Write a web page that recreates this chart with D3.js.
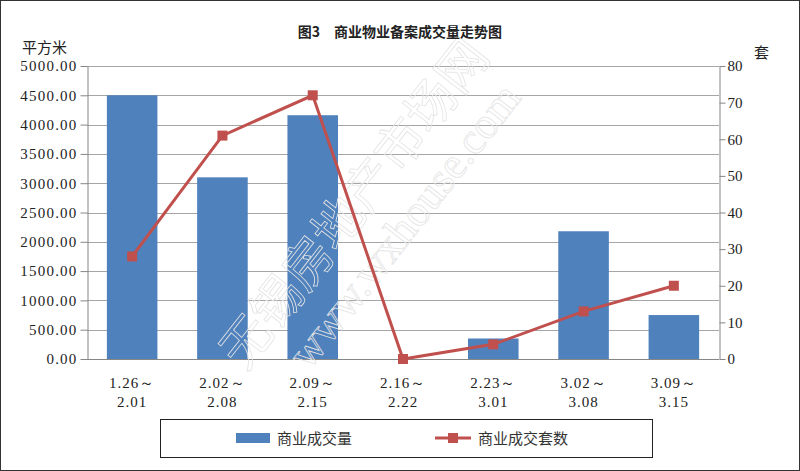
<!DOCTYPE html>
<html><head><meta charset="utf-8">
<script src="https://cdn.jsdelivr.net/npm/d3@7"></script>
<style>body{margin:0;background:#fff}svg{display:block}</style>
</head><body>
<svg id="c" width="800" height="471"></svg>
<script>
const categories = [["1.26～","2.01"],["2.02～","2.08"],["2.09～","2.15"],["2.16～","2.22"],["2.23～","3.01"],["3.02～","3.08"],["3.09～","3.15"]];
const areaValues = [4500, 3100, 4160, 0, 350, 2180, 750];
const countValues = [28, 61, 72, 0, 4, 13, 20];
const leftTicks = [0,500,1000,1500,2000,2500,3000,3500,4000,4500,5000];
const rightTicks = [0,10,20,30,40,50,60,70,80];
const seriesNames = ["商业成交量","商业成交套数"];
const title = "图3\u3000商业物业备案成交量走势图";

const svg = d3.select("#c");
const M = {l:87, r:719, t:66, b:359};
const numFont = "'Liberation Serif','DejaVu Serif',serif";
const cjkFont = "'Noto Sans CJK SC','Noto Sans',sans-serif";
const barColor = "#4F81BD", lineColor = "#C0504D";

svg.append("rect").attr("x",0.5).attr("y",0.5).attr("width",799).attr("height",470)
  .attr("fill","#fff").attr("stroke","#333").attr("stroke-width",1);

const x = d3.scaleBand().domain(d3.range(categories.length)).range([M.l, M.r]).paddingInner(0.44).paddingOuter(0.22);
const yL = d3.scaleLinear().domain([0,5000]).range([M.b, M.t]);
const yR = d3.scaleLinear().domain([0,80]).range([M.b, M.t]);

// gridlines
svg.append("g").selectAll("line").data(leftTicks.slice(1)).join("line")
  .attr("x1",M.l).attr("x2",M.r).attr("y1",d=>Math.round(yL(d))+0.5).attr("y2",d=>Math.round(yL(d))+0.5)
  .attr("stroke","#a6a6a6").attr("stroke-width",1);

// bars
svg.append("g").selectAll("rect").data(areaValues).join("rect")
  .attr("x",(d,i)=>x(i)).attr("width",x.bandwidth())
  .attr("y",d=>yL(d)).attr("height",d=>M.b-yL(d)).attr("fill",barColor);

// left axis
const gL = svg.append("g").attr("transform",`translate(${M.l+0.5},0)`)
  .call(d3.axisLeft(yL).tickValues(leftTicks).tickFormat(d3.format(".2f")).tickSize(7).tickSizeOuter(0));
gL.select(".domain").attr("stroke","#868686");
gL.selectAll(".tick line").attr("stroke","#868686");
gL.selectAll(".tick text").attr("font-family",numFont).attr("font-size",15).attr("fill","#222")
  .attr("letter-spacing","1.2px").attr("x",-10);

// right axis
const gR = svg.append("g").attr("transform",`translate(${M.r+0.5},0)`)
  .call(d3.axisRight(yR).tickValues(rightTicks).tickFormat(d3.format("d")).tickSize(6).tickSizeOuter(0));
gR.select(".domain").attr("stroke","#868686");
gR.selectAll(".tick line").attr("stroke","#868686");
gR.selectAll(".tick text").attr("font-family",numFont).attr("font-size",15).attr("fill","#222").attr("x",8);

// baseline
svg.append("line").attr("x1",M.l).attr("x2",M.r).attr("y1",M.b+0.5).attr("y2",M.b+0.5).attr("stroke","#868686");

// x labels
const xl = svg.append("g").selectAll("text").data(categories).join("text")
  .attr("x",(d,i)=>x(i)+x.bandwidth()/2).attr("text-anchor","middle")
  .attr("font-family",numFont).attr("font-size",15).attr("fill","#222").attr("letter-spacing","1px");
xl.append("tspan").attr("x",(d,i)=>x(i)+x.bandwidth()/2).attr("y",388).text(d=>d[0]);
xl.append("tspan").attr("x",(d,i)=>x(i)+x.bandwidth()/2).attr("y",407).text(d=>d[1]);

// watermark
const wm = svg.append("g").attr("transform","translate(245,372) rotate(-52)").attr("fill","none")
  .attr("stroke","#e4e4e4").attr("stroke-width",0.8);
wm.append("text").attr("font-family",cjkFont).attr("font-size",50).attr("x",0).attr("y",0).text("无锡房地产市场网");
wm.append("text").attr("font-family",numFont).attr("font-size",44).attr("x",40).attr("y",50).text("www.wxhouse.com");

// line
const line = d3.line().x((d,i)=>x(i)+x.bandwidth()/2).y(d=>yR(d));
svg.append("path").datum(countValues).attr("d",line).attr("fill","none").attr("stroke",lineColor).attr("stroke-width",3);
svg.append("g").selectAll("rect").data(countValues).join("rect")
  .attr("x",(d,i)=>x(i)+x.bandwidth()/2-5).attr("y",d=>yR(d)-5).attr("width",10).attr("height",10).attr("fill",lineColor);

// title & units
svg.append("text").attr("x",400).attr("y",37).attr("text-anchor","middle").attr("font-family",cjkFont)
  .attr("font-size",14).attr("font-weight","bold").attr("fill","#222").text(title);
svg.append("text").attr("x",22).attr("y",53).attr("font-family",cjkFont).attr("font-size",15).attr("fill","#222").text("平方米");
svg.append("text").attr("x",754).attr("y",58).attr("font-family",cjkFont).attr("font-size",15).attr("fill","#222").text("套");

// legend
const lg = svg.append("g");
lg.append("rect").attr("x",160.5).attr("y",419.5).attr("width",492).attr("height",38).attr("fill","#fff").attr("stroke","#222");
lg.append("rect").attr("x",236).attr("y",433).attr("width",34).attr("height",10).attr("fill",barColor);
lg.append("text").attr("x",277).attr("y",444).attr("font-family",cjkFont).attr("font-size",15).attr("fill","#333").text(seriesNames[0]);
lg.append("line").attr("x1",435).attr("x2",471).attr("y1",438).attr("y2",438).attr("stroke",lineColor).attr("stroke-width",3);
lg.append("rect").attr("x",448).attr("y",433).attr("width",10).attr("height",10).attr("fill",lineColor);
lg.append("text").attr("x",478).attr("y",444).attr("font-family",cjkFont).attr("font-size",15).attr("fill","#333").text(seriesNames[1]);
</script>
</body></html>
